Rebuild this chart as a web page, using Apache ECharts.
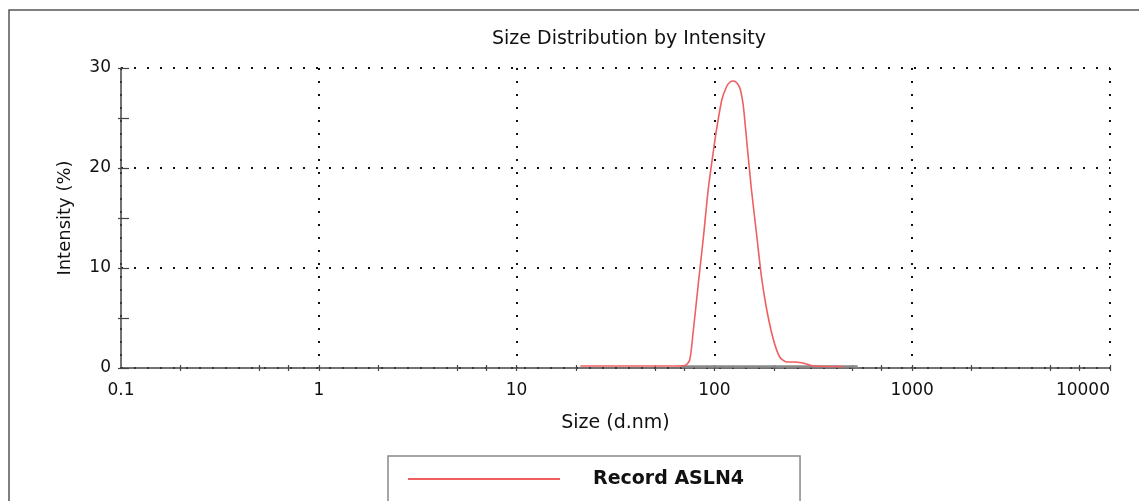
<!DOCTYPE html>
<html>
<head>
<meta charset="utf-8">
<script src="https://cdn.jsdelivr.net/npm/echarts@6/dist/echarts.min.js"></script>
<style>html,body{margin:0;padding:0;background:#fff;}#c{width:1139px;height:501px;}</style>
</head>
<body>
<div id="c"></div>
<script>
// Size (d.nm) and intensity (%)
const sizeNm = [21, 30, 40, 50, 60, 71, 75, 78, 83, 88, 93, 99, 103, 109, 115, 120, 125, 130, 135, 140, 146, 154, 164, 173, 184, 199, 214, 232, 255, 270, 292, 316, 450];
const intensity = [0.2, 0.2, 0.2, 0.2, 0.2, 0.25, 0.8, 3.5, 8.5, 13.1, 17.8, 21.8, 24.1, 26.8, 28.1, 28.6, 28.7, 28.5, 27.9, 26.2, 22.5, 17.8, 13.1, 9.1, 5.8, 2.8, 1.1, 0.6, 0.6, 0.55, 0.4, 0.2, 0.15];
const graySize = [68, 530];
const grayIntensity = [0.15, 0.15];
const xTickValues = [0.2, 0.5, 0.7, 1, 2, 5, 7, 10, 20, 50, 70, 100, 200, 500, 700, 1000, 2000, 5000, 7000, 10000];
const xLabelValues = [0.1, 1, 10, 100, 1000, 10000];
const yLabelValues = [0, 10, 20, 30];

const FONT = 'DejaVu Sans';
const TXT = '#111';
const AX = '#444';
const dotted = { color: '#111', width: 2, type: [2, 11] };

const chart = echarts.init(document.getElementById('c'), null, { renderer: 'canvas' });
const baseX = { type: 'log', logBase: 10, min: 0.1, max: 10000, gridIndex: 0, position: 'bottom' };
const baseY = { type: 'value', min: 0, max: 30, gridIndex: 0, position: 'left' };

chart.setOption({
  animation: false,
  backgroundColor: '#fff',
  title: {
    text: 'Size Distribution by Intensity',
    left: 492, top: 30, padding: 0,
    textStyle: { fontFamily: FONT, fontSize: 19, fontWeight: 'normal', color: TXT }
  },
  graphic: [{
    type: 'rect', silent: true, z: -1,
    shape: { x: 9, y: 10, width: 1200, height: 600 },
    style: { fill: 'none', stroke: '#555', lineWidth: 1.5 }
  }],
  legend: {
    data: ['Record ASLN4'],
    left: 388, top: 456,
    padding: [11, 56, 40, 20],
    borderColor: '#888', borderWidth: 1.5,
    icon: 'rect', itemWidth: 152, itemHeight: 2,
    textStyle: { fontFamily: FONT, fontSize: 19, fontWeight: 'bold', color: '#111', lineHeight: 24, padding: [0, 0, 0, 28] }
  },
  grid: { left: 121, right: 29, top: 68, bottom: 133, containLabel: false },
  xAxis: [
    Object.assign({}, baseX, {
      name: 'Size (d.nm)', nameLocation: 'middle', nameGap: 46,
      nameTextStyle: { fontFamily: FONT, fontSize: 19, color: TXT },
      axisLine: { show: true, lineStyle: { color: AX, width: 1.5 } },
      axisTick: { show: true, inside: false, length: 3, customValues: xTickValues, lineStyle: { color: AX, width: 1.2 } },
      axisLabel: { show: true, customValues: xLabelValues, margin: 14, fontFamily: FONT, fontSize: 17, color: TXT,
        alignMaxLabel: 'right', formatter: v => String(v) },
      splitLine: { show: false }
    }),
    Object.assign({}, baseX, {
      axisLine: { show: false },
      axisTick: { show: true, inside: true, length: 3, customValues: xTickValues, lineStyle: { color: AX, width: 1.2 } },
      axisLabel: { show: false },
      splitLine: { show: false }
    }),
    Object.assign({}, baseX, {
      interval: 1,
      axisLine: { show: false }, axisTick: { show: false }, axisLabel: { show: false },
      splitLine: { show: true, lineStyle: dotted }
    })
  ],
  yAxis: [
    Object.assign({}, baseY, {
      interval: 5,
      name: 'Intensity (%)', nameLocation: 'middle', nameGap: 47, nameRotate: 90,
      nameTextStyle: { fontFamily: FONT, fontSize: 18, color: TXT },
      axisLine: { show: true, lineStyle: { color: AX, width: 1.5 } },
      axisTick: { show: true, inside: false, length: 3, lineStyle: { color: AX, width: 1.2 } },
      axisLabel: { show: true, margin: 10, fontFamily: FONT, fontSize: 17, color: TXT,
        formatter: v => (yLabelValues.indexOf(v) >= 0 ? String(v) : '') },
      splitLine: { show: false }
    }),
    Object.assign({}, baseY, {
      interval: 5,
      axisLine: { show: false },
      axisTick: { show: true, inside: true, length: 8, lineStyle: { color: AX, width: 1.2 } },
      axisLabel: { show: false }, splitLine: { show: false }
    }),
    Object.assign({}, baseY, {
      interval: 10,
      axisLine: { show: false }, axisTick: { show: false }, axisLabel: { show: false },
      splitLine: { show: true, lineStyle: dotted }
    })
  ],
  series: [
    {
      name: 'gray', type: 'line', xAxisIndex: 0, yAxisIndex: 0,
      data: graySize.map((s, i) => [s, grayIntensity[i]]),
      showSymbol: false, symbol: 'none', silent: true,
      lineStyle: { color: '#8a8a8a', width: 2.5 }, z: 3
    },
    {
      name: 'Record ASLN4', type: 'line', xAxisIndex: 0, yAxisIndex: 0,
      data: sizeNm.map((s, i) => [s, intensity[i]]),
      showSymbol: false, symbol: 'none', smooth: 0.25,
      color: '#ef5f5f',
      lineStyle: { color: '#ef5f5f', width: 1.6 }, z: 4
    }
  ]
});
</script>
</body>
</html>
